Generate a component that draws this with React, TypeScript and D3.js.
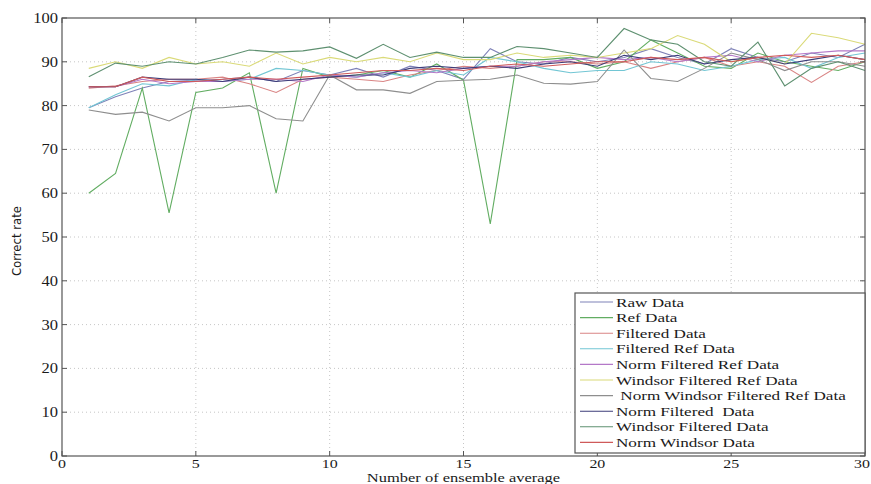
import * as d3 from 'd3'

// x = number of ensemble average (1..30)
const ensembles = d3.range(1, 31)

const seriesNames = [
  'Raw Data',
  'Ref Data',
  'Filtered Data',
  'Filtered Ref Data',
  'Norm Filtered Ref Data',
  'Windsor Filtered Ref Data',
  ' Norm Windsor Filtered Ref Data',
  'Norm Filtered  Data',
  'Windsor Filtered Data',
  'Norm Windsor Data',
]

const seriesColors = [
  '#7f82b8', '#62ad62', '#d98484', '#72c6d4', '#b478c8',
  '#dada78', '#8e8e8e', '#3c3c78', '#5e9070', '#cf5a5a',
]

const rawData = [79.5, 82, 84, 85.5, 85.8, 86, 86.5, 85.5, 88, 87, 88.5, 86.5, 89, 88, 86, 93, 90, 89.5, 91, 90, 91, 93, 91, 89.5, 93, 91, 90, 92, 91, 94]
const refData = [60, 64.5, 84, 55.5, 83, 84, 87.5, 60, 88.5, 86.5, 87, 88, 86.5, 89.5, 85.8, 53, 90.5, 90.5, 91, 88.5, 90, 95, 92, 89, 88.5, 92, 90, 89, 88, 90]
const filteredData = [84, 84.5, 85.5, 86, 86, 86.5, 85, 83, 86, 86.5, 86, 85.5, 87, 88, 89, 88.5, 89, 90, 90, 89.5, 90, 88.5, 90, 91, 89, 90, 89, 85.3, 89, 90]
const filteredRefData = [79.5, 82.5, 85, 84.5, 86, 85.5, 86, 88.5, 88, 87, 86.5, 87.5, 86.5, 88, 87, 91, 90, 88.5, 87.5, 88, 88, 90, 89.5, 88, 89, 90.5, 91, 88.5, 91, 92]
const normFilteredRefData = [84.3, 84.3, 86, 85, 85.5, 85.5, 86, 86, 85.5, 87, 86.5, 87.5, 88, 87.5, 88.5, 89, 89, 90, 90.5, 91, 90.5, 91, 90, 91, 91.5, 90, 91.5, 92, 92.5, 92.5]
const windsorFilteredRefData = [88.5, 90, 88.5, 91, 89.5, 90, 89, 92, 89.5, 91, 90, 91, 90, 92, 90.5, 90.5, 92, 91, 91.5, 91, 92, 93, 96, 94, 90, 91, 89.5, 96.5, 95.5, 94]
const normWindsorFilteredRefData = [79, 78, 78.5, 76.5, 79.5, 79.5, 80, 77, 76.5, 87, 83.6, 83.6, 82.8, 85.5, 85.8, 86, 87, 85.1, 84.9, 85.5, 92.7, 86.2, 85.5, 88.5, 92, 90.5, 88, 90, 90, 89]
const normFilteredData = [84.3, 84.3, 86.5, 86, 86, 85.5, 86.5, 85.5, 86, 86.5, 87, 87, 88.5, 89, 88.5, 89, 88.5, 89.5, 90, 89, 91.5, 90.5, 91.5, 89.5, 90.5, 91, 89.5, 90.5, 91.5, 90.5]
const windsorFilteredData = [86.6, 89.7, 89, 90, 89.5, 91, 92.7, 92.2, 92.5, 93.4, 90.8, 94, 91, 92.2, 91, 91, 93.5, 93, 92, 91, 97.6, 95, 94, 90, 89, 94.5, 84.5, 88.5, 90, 88]
const normWindsorData = [84.3, 84.3, 86.5, 85.5, 85.5, 86, 86.5, 86, 86.5, 87, 87.5, 88, 88, 88.5, 88, 89, 89.5, 89, 89.5, 90, 90, 91, 90.5, 91, 90, 91, 91.5, 91, 91.5, 90.5]

const seriesValues = [
  rawData, refData, filteredData, filteredRefData, normFilteredRefData,
  windsorFilteredRefData, normWindsorFilteredRefData, normFilteredData,
  windsorFilteredData, normWindsorData,
]

const xTicks = [0, 5, 10, 15, 20, 25, 30]
const yTicks = [0, 10, 20, 30, 40, 50, 60, 70, 80, 90, 100]

const font = '"Liberation Serif", "Times New Roman", serif'

// serif text, stretched sideways like the original image
function Txt({ x, y, anchor = 'start', size = 14, sx = 1.18, children }: any) {
  return (
    <text
      transform={`translate(${x},${y}) scale(${sx},1)`}
      textAnchor={anchor} fontFamily={font} fontSize={size} fill="#1a1a1a"
      style={{ whiteSpace: 'pre' }}
    >
      {children}
    </text>
  )
}

export default function App() {
  const width = 871, height = 484
  const margin = { top: 18, right: 6, bottom: 28, left: 62 }

  const x = d3.scaleLinear()
    .domain([0, 30])
    .range([margin.left, width - margin.right])
  const y = d3.scaleLinear()
    .domain([0, 100])
    .range([height - margin.bottom, margin.top])

  const line = d3.line<number>()
    .x((_, i) => x(ensembles[i]))
    .y(d => y(d))

  const x0 = x(0), x1 = x(30), y0 = y(0), y1 = y(100)
  const tick = 5

  const legend = { x: 575, y: 293, w: x1 - 575, h: 160, row: 15.6 }

  return (
    <svg width={width} height={height} style={{ position: 'absolute', left: 0, top: 0, background: '#fff' }}>
      {/* grid */}
      <g stroke="#b8b8b8" strokeWidth={0.8} strokeDasharray="1,3">
        {xTicks.slice(1, -1).map(t => (
          <line key={'gx' + t} x1={x(t)} x2={x(t)} y1={y0} y2={y1} />
        ))}
        {yTicks.slice(1, -1).map(t => (
          <line key={'gy' + t} x1={x0} x2={x1} y1={y(t)} y2={y(t)} />
        ))}
      </g>

      {/* series */}
      <g fill="none" strokeWidth={1.1}>
        {seriesValues.map((vals, i) => (
          <path key={i} d={line(vals) ?? ''} stroke={seriesColors[i]} />
        ))}
      </g>

      {/* box and ticks */}
      <rect x={x0} y={y1} width={x1 - x0} height={y0 - y1} fill="none" stroke="#555" strokeWidth={1.2} />
      <g stroke="#555" strokeWidth={1}>
        {xTicks.map(t => (
          <g key={'tx' + t}>
            <line x1={x(t)} x2={x(t)} y1={y0} y2={y0 - tick} />
            <line x1={x(t)} x2={x(t)} y1={y1} y2={y1 + tick} />
          </g>
        ))}
        {yTicks.map(t => (
          <g key={'ty' + t}>
            <line x1={x0} x2={x0 + tick} y1={y(t)} y2={y(t)} />
            <line x1={x1} x2={x1 - tick} y1={y(t)} y2={y(t)} />
          </g>
        ))}
      </g>

      {/* tick labels */}
      {xTicks.map(t => (
        <Txt key={'lx' + t} x={t === 30 ? x(t) - 3 : x(t)} y={y0 + 11.5} anchor="middle" size={13.5}>{t}</Txt>
      ))}
      {yTicks.map(t => (
        <Txt key={'ly' + t} x={x0 - 4} y={y(t) + 5} anchor="end" size={14}>{t}</Txt>
      ))}

      <Txt x={(x0 + x1) / 2} y={height - 2} anchor="middle" size={13.5} sx={1.22}>Number of ensemble average</Txt>
      <text
        transform={`translate(21,${(y0 + y1) / 2 + 4}) rotate(-90)`}
        textAnchor="middle" fontFamily='"Liberation Sans Narrow", "DejaVu Sans Condensed", sans-serif'
        fontSize={13} fill="#1a1a1a"
      >
        Correct rate
      </text>

      {/* legend */}
      <rect x={legend.x} y={legend.y} width={legend.w} height={legend.h} fill="#fff" stroke="#555" strokeWidth={1.2} />
      {seriesNames.map((name, i) => {
        const cy = legend.y + 9 + i * legend.row
        return (
          <g key={name}>
            <line x1={legend.x + 5} x2={legend.x + 38} y1={cy} y2={cy} stroke={seriesColors[i]} strokeWidth={1.1} />
            <Txt x={legend.x + 41} y={cy + 4.5} size={13.5} sx={1.27}>{name}</Txt>
          </g>
        )
      })}
    </svg>
  )
}
